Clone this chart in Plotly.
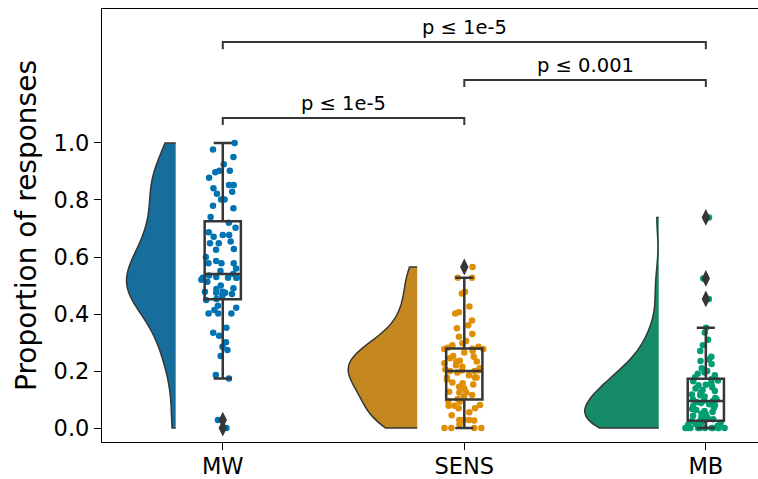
import plotly.graph_objects as go

# ---------------- data ----------------
categories = ["MW", "SENS", "MB"]

mw_values = [1.0, 0.977, 0.951, 0.925, 0.903, 0.903, 0.897, 0.878, 0.853, 0.853,
             0.841, 0.829, 0.822, 0.802, 0.802, 0.78, 0.771, 0.74, 0.72, 0.703,
             0.687, 0.677, 0.677, 0.671, 0.654, 0.648, 0.648, 0.628, 0.625, 0.60,
             0.586, 0.578, 0.578, 0.578, 0.56, 0.551, 0.54, 0.535, 0.53, 0.527,
             0.527, 0.527, 0.527, 0.52, 0.513, 0.50, 0.49, 0.488, 0.478, 0.478,
             0.475, 0.475, 0.47, 0.464, 0.453, 0.449, 0.429, 0.422, 0.414, 0.402,
             0.402, 0.402, 0.352, 0.334, 0.324, 0.301, 0.285, 0.274, 0.253, 0.186,
             0.174, 0.028, 0.0]

sens_values = [0.565, 0.527, 0.527, 0.478, 0.472, 0.426, 0.406, 0.402, 0.377, 0.361,
               0.35, 0.33, 0.32, 0.305, 0.297, 0.29, 0.285, 0.282, 0.278, 0.277,
               0.277, 0.27, 0.265, 0.253, 0.25, 0.245, 0.236, 0.233, 0.233, 0.227,
               0.22, 0.215, 0.21, 0.205, 0.203, 0.202, 0.2, 0.2, 0.195, 0.185,
               0.177, 0.177, 0.177, 0.17, 0.16, 0.157, 0.153, 0.145, 0.139, 0.127,
               0.125, 0.125, 0.116, 0.11, 0.102, 0.095, 0.092, 0.081, 0.078, 0.078,
               0.069, 0.069, 0.055, 0.045, 0.028, 0.028, 0.028, 0.026, 0.013, 0.0,
               0.0, 0.0, 0.0]

mb_values = [0.739, 0.525, 0.453, 0.352, 0.335, 0.31, 0.29, 0.27, 0.25, 0.24,
             0.235, 0.225, 0.21, 0.2, 0.195, 0.19, 0.185, 0.178, 0.171, 0.167,
             0.164, 0.158, 0.152, 0.15, 0.143, 0.139, 0.133, 0.13, 0.125, 0.118,
             0.115, 0.111, 0.105, 0.1, 0.1, 0.097, 0.095, 0.091, 0.088, 0.083,
             0.08, 0.077, 0.071, 0.067, 0.063, 0.06, 0.056, 0.05, 0.048, 0.043,
             0.04, 0.036, 0.031, 0.028, 0.026, 0.024, 0.02, 0.018, 0.014, 0.011,
             0.008, 0.006, 0.0, 0.0, 0.0, 0.0, 0.0, 0.0, 0.0, 0.0,
             0.0, 0.0, 0.0]

series = [mw_values, sens_values, mb_values]

comparisons = [("MW", "SENS", "p ≤ 1e-5"),
               ("SENS", "MB", "p ≤ 0.001"),
               ("MW", "MB", "p ≤ 1e-5")]

y_tick_values = [0.0, 0.2, 0.4, 0.6, 0.8, 1.0]
y_tick_labels = ["0.0", "0.2", "0.4", "0.6", "0.8", "1.0"]
y_title = "Proportion of responses"

# ---------------- style ----------------
FONT = "DejaVu Sans"
DARK = "#363636"
point_colors = ["#0173b2", "#de8f05", "#029e73"]
violin_colors = ["#176e9c", "#c58820", "#168b6a"]
violin_offset = -0.195
violin_widths = [0.406, 0.571, 0.613]
violin_bandwidths = [0.085, 0.055, 0.06]
bracket_levels = [1.088, 1.221, 1.354]
bracket_tip = 0.025

fig = go.Figure()

for i, (cat, vals) in enumerate(zip(categories, series)):
    fig.add_trace(go.Violin(
        y=vals, x0=i + violin_offset, name=cat, side="negative",
        width=violin_widths[i], bandwidth=violin_bandwidths[i],
        spanmode="hard", points=False, scalemode="width",
        fillcolor=violin_colors[i], opacity=1,
        line=dict(color=DARK, width=1.5),
        box_visible=False, meanline_visible=False, showlegend=False,
    ))

for i, (cat, vals) in enumerate(zip(categories, series)):
    fig.add_trace(go.Box(
        y=vals, x0=i, name=cat, width=0.2, boxpoints="all", jitter=1,
        pointpos=0, marker=dict(color=point_colors[i], size=6.5),
        line=dict(width=0), fillcolor="rgba(0,0,0,0)", showlegend=False,
    ))

for i, (cat, vals) in enumerate(zip(categories, series)):
    fig.add_trace(go.Box(
        y=vals, x0=i, name=cat, width=0.15, boxpoints="outliers", jitter=0,
        pointpos=0, whiskerwidth=0.5,
        marker=dict(symbol="diamond-tall", size=12, color=DARK),
        line=dict(color=DARK, width=2.5), fillcolor="rgba(0,0,0,0)",
        showlegend=False,
    ))

shapes = []
annotations = []
for (a, b, label), level in zip(comparisons, bracket_levels):
    x1 = categories.index(a)
    x2 = categories.index(b)
    shapes.append(dict(
        type="path", xref="x", yref="y",
        path=f"M {x1},{level - bracket_tip} L {x1},{level} L {x2},{level} L {x2},{level - bracket_tip}",
        line=dict(color=DARK, width=2),
    ))
    annotations.append(dict(
        x=(x1 + x2) / 2, y=level, xref="x", yref="y", text=label,
        showarrow=False, yanchor="bottom", yshift=1,
        font=dict(family=FONT, size=19.5, color="black"),
    ))

fig.update_layout(
    width=758, height=479,
    margin=dict(l=102, r=0, t=9, b=37),
    paper_bgcolor="white", plot_bgcolor="white",
    boxmode="overlay", violinmode="overlay",
    showlegend=False,
    shapes=shapes, annotations=annotations,
    font=dict(family=FONT, color="black"),
)

fig.update_xaxes(
    type="linear", range=[-0.5, 2.216],
    tickvals=list(range(len(categories))), ticktext=categories,
    ticks="outside", ticklen=7, tickwidth=1.25, tickcolor="black",
    showline=True, linecolor="black", linewidth=1.25, mirror=True,
    showgrid=False, zeroline=False, automargin=False,
    ticklabelstandoff=-3,
    tickfont=dict(family=FONT, size=22.5, color="black"),
)
fig.update_yaxes(
    range=[-0.049, 1.470],
    tickvals=y_tick_values, ticktext=y_tick_labels,
    ticks="outside", ticklen=7, tickwidth=1.25, tickcolor="black",
    showline=True, linecolor="black", linewidth=1.25,
    showgrid=False, zeroline=False, automargin=False,
    tickfont=dict(family=FONT, size=22.5, color="black"),
    title=dict(text=y_title, font=dict(family=FONT, size=28, color="black"), standoff=8),
)

fig.write_html(
    "out.html",
    config={"displayModeBar": False},
    post_script="document.body.style.margin='0';document.body.style.overflow='hidden';",
)
